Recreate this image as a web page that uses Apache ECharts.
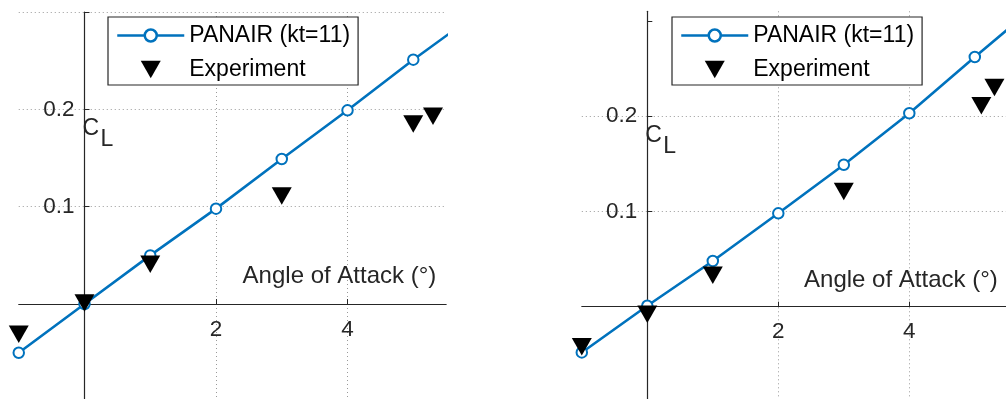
<!DOCTYPE html>
<html>
<head>
<meta charset="utf-8">
<script src="https://cdn.jsdelivr.net/npm/echarts@6/dist/echarts.min.js"></script>
<style>
  html, body { margin: 0; padding: 0; background: #fff; }
  #chart { width: 1006px; height: 399px; }
</style>
</head>
<body>
<div id="chart"></div>
<script>
// Lift coefficient vs angle of attack: PANAIR prediction and wind-tunnel data, two configurations.
const alpha = [-1, 0, 1, 2, 3, 4, 5, 6];
const panairLeft = [-0.050, 0.000, 0.050, 0.098, 0.149, 0.199, 0.251, 0.300];
const panairRight = [-0.048, 0.001, 0.048, 0.098, 0.149, 0.203, 0.262, 0.320];

const expAlphaLeft = [-1, 0, 1, 3, 5, 5.3];
const expLeft = [-0.031, 0.001, 0.041, 0.111, 0.185, 0.193];
const expAlphaRight = [-1, 0, 1, 3, 5.1, 5.3];
const expRight = [-0.042, -0.008, 0.033, 0.121, 0.211, 0.230];

const xTickLabels = [2, 4];
const xTickMarks = [0, 2, 4];
const yTickLabels = [0.1, 0.2];
const yTickMarks = [0.1, 0.2, 0.3];
const seriesNames = ['PANAIR (kt=11)', 'Experiment'];
const xTitle = 'Angle of Attack (°)';

const FONT = '"Liberation Sans", Arial, Helvetica, sans-serif';
const BLUE = '#0072BD';
const AXIS = '#262626';
const GRID = '#9a9a9a';

const X_RANGE = [-1, 5.5];
const panels = [
  { grid: { left: 18.75, top: 12, width: 427.4, height: 389.4 }, yRange: [-0.1, 0.3], legendLeft: 108 },
  { grid: { left: 581.8, top: 11.3, width: 425.75, height: 390.7 }, yRange: [-0.1, 0.31], legendLeft: 672 }
];

const pairs = (xs, ys) => xs.map((x, i) => [x, ys[i]]);

// axes cross at the origin: shift each axis from the grid edge to the other axis' zero
function xAxisFor(g) {
  const p = panels[g];
  const shift = (0 - p.yRange[0]) / (p.yRange[1] - p.yRange[0]) * p.grid.height;
  return {
    type: 'value', gridIndex: g, min: X_RANGE[0], max: X_RANGE[1], interval: 0.5,
    position: 'bottom', offset: -shift,
    axisLine: { onZero: false, lineStyle: { color: AXIS, width: 1.2 } },
    axisTick: { show: true, inside: true, length: 5, customValues: xTickMarks,
                lineStyle: { color: AXIS, width: 1 } },
    axisLabel: { customValues: xTickLabels, margin: 14, color: AXIS,
                 fontFamily: FONT, fontSize: 22.5, formatter: v => String(v) },
    splitLine: { show: true, lineStyle: { type: [1, 3], color: GRID, width: 1 } }
  };
}

function yAxisFor(g) {
  const p = panels[g];
  const shift = (0 - X_RANGE[0]) / (X_RANGE[1] - X_RANGE[0]) * p.grid.width;
  return {
    type: 'value', gridIndex: g, min: p.yRange[0], max: p.yRange[1], interval: 0.02,
    position: 'left', offset: -shift,
    axisLine: { onZero: false, lineStyle: { color: AXIS, width: 1.2 } },
    axisTick: { show: true, inside: true, length: 5, customValues: yTickMarks,
                lineStyle: { color: AXIS, width: 1 } },
    axisLabel: { customValues: yTickLabels, margin: 10, color: AXIS,
                 fontFamily: FONT, fontSize: 22.5, formatter: v => v.toFixed(1) },
    splitLine: { show: true, showMaxLine: p.yRange[1] <= 0.3,
                 lineStyle: { type: [1, 3], color: GRID, width: 1 } }
  };
}

// legend glyphs: line broken by an open ring, and a downward triangle
const ICON_LINE = 'path://M33.5,0 M33.5,20 M0,10 L27.5,10 M39.5,10 L67,10 ' +
                  'M39.5,10 A6,6 0 1 1 27.5,10 A6,6 0 1 1 39.5,10';
const ICON_TRI = 'path://M10,0 M10,20 M0,1.25 L20,1.25 L10,18.75 Z';

function legendFor(g) {
  return {
    left: panels[g].legendLeft, top: 17, orient: 'vertical', selectedMode: false,
    backgroundColor: '#fff', borderColor: AXIS, borderWidth: 1.2, borderRadius: 0,
    padding: [7, 8, 4, 8], itemGap: 11, itemWidth: 67, itemHeight: 20,
    textStyle: { fontFamily: FONT, fontSize: 23, color: '#000' },
    data: [
      { name: seriesNames[0], icon: ICON_LINE,
        itemStyle: { color: 'transparent', borderColor: BLUE, borderWidth: 2.5, opacity: 1 } },
      { name: seriesNames[1], icon: ICON_TRI,
        itemStyle: { color: '#000', borderWidth: 0, opacity: 1 } }
    ]
  };
}

function panairSeries(g, ys) {
  return {
    name: seriesNames[0], type: 'line', xAxisIndex: g, yAxisIndex: g,
    data: pairs(alpha, ys), clip: true,
    symbol: 'emptyCircle', symbolSize: 10.5,
    lineStyle: { color: BLUE, width: 2.6 },
    itemStyle: { color: BLUE, borderColor: BLUE, borderWidth: 2.5 },
    emphasis: { disabled: true }, animation: false, z: 3
  };
}

function expSeries(g, xs, ys) {
  return {
    name: seriesNames[1], type: 'scatter', xAxisIndex: g, yAxisIndex: g,
    data: pairs(xs, ys),
    symbol: 'triangle', symbolRotate: 180, symbolSize: [20, 17.5],
    itemStyle: { color: '#000', opacity: 1 },
    emphasis: { disabled: true }, animation: false, z: 4
  };
}

const chart = echarts.init(document.getElementById('chart'), null, { renderer: 'canvas' });
chart.setOption({
  animation: false,
  backgroundColor: '#fff',
  grid: panels.map(p => Object.assign({ outerBoundsMode: 'none', containLabel: false }, p.grid)),
  xAxis: [xAxisFor(0), xAxisFor(1)],
  yAxis: [yAxisFor(0), yAxisFor(1)],
  legend: [legendFor(0), legendFor(1)],
  series: [
    panairSeries(0, panairLeft),
    expSeries(0, expAlphaLeft, expLeft),
    panairSeries(1, panairRight),
    expSeries(1, expAlphaRight, expRight)
  ]
});

// axis titles placed relative to each panel's own scales
const titles = [];
[0, 1].forEach(g => {
  const xt = chart.convertToPixel({ gridIndex: g }, [5.35, 0.028]);
  titles.push({
    type: 'text', x: xt[0], y: xt[1], z: 10,
    style: { text: xTitle, font: '24px ' + FONT, fill: AXIS, align: 'right', verticalAlign: 'middle' }
  });
  const c = chart.convertToPixel({ gridIndex: g }, [0, 0.18]);
  titles.push({
    type: 'text', x: c[0] - 2, y: c[1], z: 10,
    style: { text: 'C', font: '23px ' + FONT, fill: AXIS, align: 'left', verticalAlign: 'middle' }
  });
  titles.push({
    type: 'text', x: c[0] + 16, y: c[1] + 11, z: 10,
    style: { text: 'L', font: '23px ' + FONT, fill: AXIS, align: 'left', verticalAlign: 'middle' }
  });
});
chart.setOption({ graphic: titles });
</script>
</body>
</html>
